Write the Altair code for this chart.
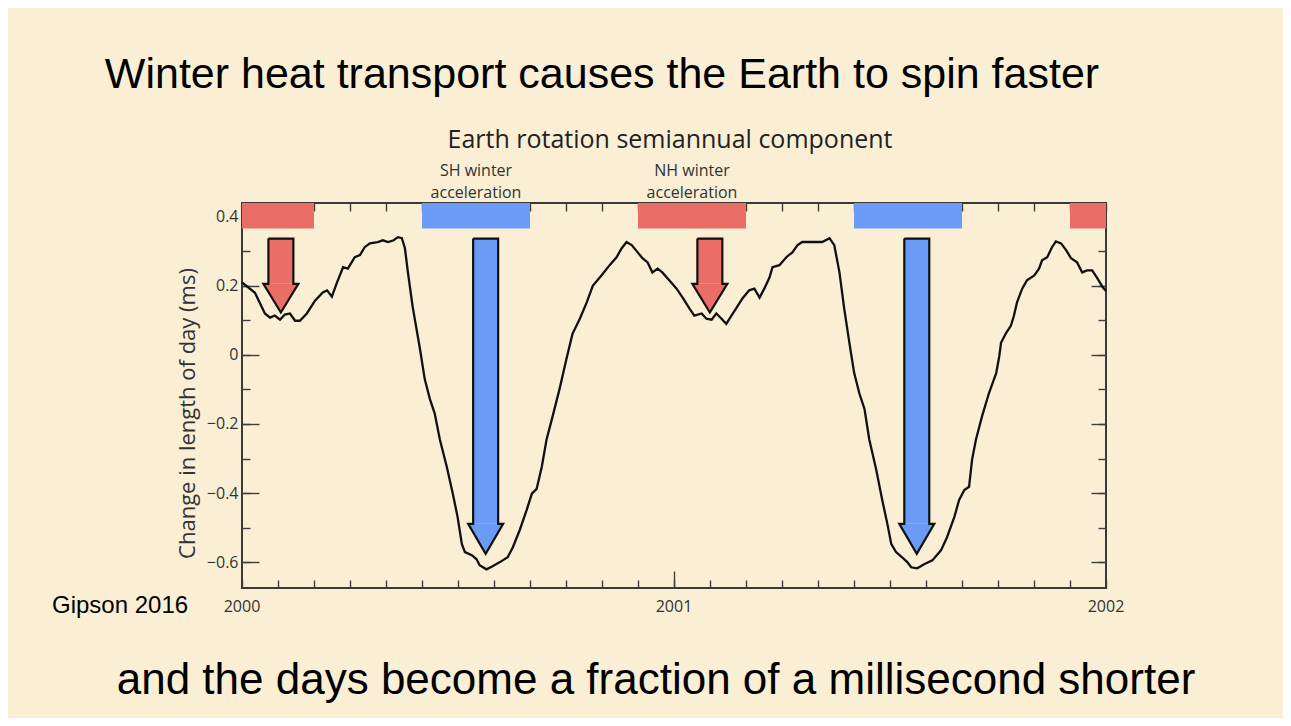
import altair as alt
import pandas as pd

# ---------------- data ----------------
years = [2000.000, 2000.030, 2000.053, 2000.065, 2000.076, 2000.088, 2000.099, 2000.111,
         2000.123, 2000.134, 2000.150, 2000.169, 2000.187, 2000.197, 2000.208, 2000.220,
         2000.234, 2000.245, 2000.261, 2000.273, 2000.284, 2000.296, 2000.314, 2000.326,
         2000.338, 2000.351, 2000.361, 2000.370, 2000.377, 2000.384, 2000.395, 2000.412,
         2000.423, 2000.435, 2000.446, 2000.458, 2000.474, 2000.488, 2000.499, 2000.509,
         2000.516, 2000.532, 2000.543, 2000.550, 2000.566, 2000.580, 2000.597, 2000.615,
         2000.627, 2000.643, 2000.659, 2000.671, 2000.682, 2000.694, 2000.705, 2000.719,
         2000.735, 2000.751, 2000.765, 2000.782, 2000.798, 2000.812, 2000.832, 2000.851,
         2000.867, 2000.879, 2000.890, 2000.902, 2000.916, 2000.927, 2000.939, 2000.950,
         2000.962, 2000.973, 2000.989, 2001.006, 2001.020, 2001.036, 2001.047, 2001.064,
         2001.075, 2001.087, 2001.098, 2001.110, 2001.121, 2001.133, 2001.145, 2001.158,
         2001.174, 2001.186, 2001.198, 2001.209, 2001.221, 2001.228, 2001.244, 2001.260,
         2001.274, 2001.286, 2001.297, 2001.320, 2001.343, 2001.360, 2001.371, 2001.383,
         2001.394, 2001.406, 2001.417, 2001.429, 2001.441, 2001.452, 2001.468, 2001.482,
         2001.494, 2001.503, 2001.514, 2001.528, 2001.540, 2001.549, 2001.563, 2001.579,
         2001.598, 2001.618, 2001.632, 2001.649, 2001.660, 2001.672, 2001.683, 2001.690,
         2001.699, 2001.713, 2001.729, 2001.746, 2001.753, 2001.757, 2001.769, 2001.780,
         2001.787, 2001.794, 2001.806, 2001.817, 2001.834, 2001.845, 2001.852, 2001.864,
         2001.875, 2001.884, 2001.896, 2001.908, 2001.919, 2001.933, 2001.945, 2001.956,
         2001.968, 2001.979, 2001.993, 2002.000]
lod_change = [0.210, 0.180, 0.120, 0.108, 0.114, 0.102, 0.117, 0.120,
              0.099, 0.099, 0.120, 0.157, 0.181, 0.187, 0.169, 0.210,
              0.254, 0.250, 0.283, 0.289, 0.312, 0.323, 0.327, 0.332,
              0.327, 0.332, 0.341, 0.338, 0.310, 0.240, 0.140, 0.017,
              -0.070, -0.128, -0.169, -0.245, -0.324, -0.402, -0.469, -0.548,
              -0.571, -0.580, -0.592, -0.609, -0.621, -0.612, -0.600, -0.586,
              -0.557, -0.507, -0.449, -0.402, -0.388, -0.324, -0.245, -0.178,
              -0.099, -0.012, 0.061, 0.105, 0.152, 0.200, 0.230, 0.260,
              0.283, 0.309, 0.327, 0.318, 0.297, 0.280, 0.268, 0.239,
              0.250, 0.239, 0.216, 0.192, 0.166, 0.134, 0.114, 0.120,
              0.105, 0.102, 0.120, 0.105, 0.090, 0.114, 0.137, 0.163,
              0.187, 0.192, 0.166, 0.192, 0.224, 0.254, 0.260, 0.283,
              0.297, 0.318, 0.327, 0.327, 0.327, 0.338, 0.318, 0.239,
              0.134, 0.035, -0.052, -0.111, -0.157, -0.245, -0.332, -0.420,
              -0.490, -0.548, -0.571, -0.586, -0.600, -0.615, -0.618, -0.606,
              -0.595, -0.566, -0.528, -0.469, -0.420, -0.391, -0.382, -0.303,
              -0.245, -0.178, -0.111, -0.052, -0.003, 0.035, 0.064, 0.085,
              0.114, 0.152, 0.192, 0.216, 0.230, 0.250, 0.274, 0.283,
              0.312, 0.329, 0.323, 0.303, 0.280, 0.268, 0.239, 0.245,
              0.245, 0.224, 0.195, 0.185]

# winter acceleration bands (fractional years)
band_start = [2000.0, 2000.4167, 2000.9167, 2001.4167, 2001.9167]
band_end = [2000.1667, 2000.6667, 2001.1667, 2001.6667, 2002.0]
band_kind = ["NH", "SH", "NH", "SH", "NH"]
band_top = [0.44, 0.44, 0.44, 0.44, 0.44]
band_bottom = [0.366, 0.366, 0.366, 0.366, 0.366]

# arrows
arrow_x = [2000.090, 2000.564, 2001.083, 2001.562]
arrow_kind = ["NH", "SH", "NH", "SH"]
arrow_top = [0.337, 0.337, 0.337, 0.337]
arrow_base = [0.206, -0.489, 0.206, -0.489]
arrow_tip = [0.123, -0.576, 0.123, -0.576]

annot_x = [2000.5417, 2001.0417]
annot_line1 = ["SH winter", "NH winter"]
annot_line2 = ["acceleration", "acceleration"]

x_label_values = [2000, 2001, 2002]
x_label_text = ["2000", "2001", "2002"]
x_major_inner = [2001]
month_ticks = [round(2000 + i / 12, 5) for i in range(25)]
y_major = [-0.6, -0.4, -0.2, 0, 0.2, 0.4]
y_minor = [round(-0.6 + 0.1 * i, 2) for i in range(11)]

HEADING = "Winter heat transport causes the Earth to spin faster"
FOOTER = "and the days become a fraction of a millisecond shorter"
CHART_TITLE = "Earth rotation semiannual component"
SOURCE = "Gipson 2016"
Y_TITLE = "Change in length of day (ms)"

# ---------------- geometry / style ----------------
W, H = 864, 385
SHAFT_HALF = 0.0289
HEAD_HALF = 0.0405
RED = "#EA6E66"
BLUE = "#6A9BF6"
TICKC = "#3d3d3d"
FONT = "Open Sans"

curve_df = pd.DataFrame({"year": years, "lod": lod_change})
bands_df = pd.DataFrame({"start": band_start, "end": band_end, "kind": band_kind,
                         "top": band_top, "bottom": band_bottom})

shaft_rows, head_rows, outline_rows = [], [], []
for i, (xc, kind, top, base, tip) in enumerate(zip(arrow_x, arrow_kind, arrow_top, arrow_base, arrow_tip)):
    shaft_rows.append({"x1": xc - SHAFT_HALF, "x2": xc + SHAFT_HALF, "top": top, "base": base, "kind": kind})
    for hx, hy in [(xc - HEAD_HALF, base), (xc, tip), (xc + HEAD_HALF, base)]:
        head_rows.append({"id": i, "kind": kind, "hx": hx, "hy": hy, "base": base})
    verts = [(xc - SHAFT_HALF, top), (xc + SHAFT_HALF, top), (xc + SHAFT_HALF, base),
             (xc + HEAD_HALF, base), (xc, tip), (xc - HEAD_HALF, base),
             (xc - SHAFT_HALF, base), (xc - SHAFT_HALF, top)]
    for k, (vx, vy) in enumerate(verts):
        outline_rows.append({"id": i, "k": k, "ox": vx, "oy": vy})
shaft_df = pd.DataFrame(shaft_rows)
head_df = pd.DataFrame(head_rows)
outline_df = pd.DataFrame(outline_rows)
annot_df = pd.DataFrame({"x": annot_x, "l1": annot_line1, "l2": annot_line2})
xlab_df = pd.DataFrame({"v": x_label_values, "t": x_label_text})

xs = alt.Scale(domain=[2000, 2002], nice=False, zero=False)
ys = alt.Scale(domain=[-0.675, 0.44], nice=False, zero=False)
cs = alt.Scale(domain=["NH", "SH"], range=[RED, BLUE])

TICK = dict(labels=False, domain=False, grid=False, title=None, tickColor=TICKC, tickWidth=1.4)

ax_y_labels = alt.Axis(orient="left", values=y_major, format=".1~f", ticks=False, domain=False,
                       grid=False, title=Y_TITLE, labelFont=FONT, labelFontSize=16, labelColor="#333",
                       labelPadding=4, labelOverlap=False, titleFont=FONT, titleFontSize=22,
                       titleFontWeight="normal", titleColor="#333", titleX=-43, titleY=210,
                       titleAngle=270)
ax_x_bottom_minor = alt.Axis(orient="top", offset=-H, values=month_ticks, tickSize=8, **TICK)
ax_x_bottom_major = alt.Axis(orient="top", offset=-H, values=x_major_inner, tickSize=17, **TICK)
ax_x_top_minor = alt.Axis(orient="bottom", offset=-H, values=month_ticks, tickSize=8, **TICK)
ax_x_top_major = alt.Axis(orient="bottom", offset=-H, values=x_major_inner, tickSize=17, **TICK)
ax_y_left_minor = alt.Axis(orient="right", offset=-W, values=y_minor, tickSize=8, **TICK)
ax_y_left_major = alt.Axis(orient="right", offset=-W, values=y_major, tickSize=17, **TICK)
ax_y_right_minor = alt.Axis(orient="left", offset=-W, values=y_minor, tickSize=8, **TICK)
ax_y_right_major = alt.Axis(orient="left", offset=-W, values=y_major, tickSize=15, **TICK)

bands = alt.Chart(bands_df).mark_rect(opacity=1).encode(
    x=alt.X("start:Q", scale=xs, axis=None),
    x2="end:Q",
    y=alt.Y("top:Q", scale=ys, axis=ax_y_labels),
    y2="bottom:Q",
    color=alt.Color("kind:N", scale=cs, legend=None),
)

curve = alt.Chart(curve_df).mark_line(color="#111111", strokeWidth=2.3).encode(
    x=alt.X("year:Q", scale=xs, axis=ax_x_top_major),
    y=alt.Y("lod:Q", scale=ys, axis=ax_y_right_major),
)

shafts = alt.Chart(shaft_df).mark_rect(opacity=1).encode(
    x=alt.X("x1:Q", scale=xs, axis=ax_x_bottom_minor),
    x2="x2:Q",
    y=alt.Y("top:Q", scale=ys, axis=ax_y_left_minor),
    y2="base:Q",
    color=alt.Color("kind:N", scale=cs, legend=None),
)

heads = alt.Chart(head_df).mark_area(opacity=1).encode(
    x=alt.X("hx:Q", scale=xs, axis=ax_x_bottom_major),
    y=alt.Y("hy:Q", scale=ys, axis=ax_y_left_major, stack=None),
    y2="base:Q",
    color=alt.Color("kind:N", scale=cs, legend=None),
    detail="id:N",
)

outline = alt.Chart(outline_df).mark_line(color="#111111", strokeWidth=2.2, strokeJoin="miter").encode(
    x=alt.X("ox:Q", scale=xs, axis=ax_x_top_minor),
    y=alt.Y("oy:Q", scale=ys, axis=ax_y_right_minor),
    order="k:Q",
    detail="id:N",
)

annot_style = dict(font=FONT, fontSize=16, color="#333", align="center", baseline="alphabetic")
annot1 = alt.Chart(annot_df).mark_text(**annot_style).encode(
    x=alt.X("x:Q", scale=xs, axis=None), y=alt.value(-27), text="l1:N")
annot2 = alt.Chart(annot_df).mark_text(**annot_style).encode(
    x=alt.X("x:Q", scale=xs, axis=None), y=alt.value(-5), text="l2:N")

xlabels = alt.Chart(xlab_df).mark_text(**annot_style).encode(
    x=alt.X("v:Q", scale=xs, axis=None), y=alt.value(H + 24), text="t:N")


def text_layer(txt, x, y, font, size, color="#000", align="center"):
    return alt.Chart(pd.DataFrame({"t": [txt]})).mark_text(
        font=font, fontSize=size, color=color, align=align, baseline="alphabetic"
    ).encode(text="t:N", x=alt.value(x), y=alt.value(y))


heading = text_layer(HEADING, 360, -115, "Liberation Sans", 43)
footer = text_layer(FOOTER, 414, 491, "Liberation Sans", 44)
ctitle = text_layer(CHART_TITLE, 428, -55, FONT, 25, color="#222")
source = text_layer(SOURCE, -190, 410, "Liberation Sans", 24, align="left")

chart = alt.layer(
    bands, curve, shafts, heads, outline, annot1, annot2, xlabels, heading, footer, ctitle, source
).resolve_axis(x="independent", y="independent").properties(
    width=W, height=H, autosize="none",
    padding={"left": 234, "top": 195, "right": 177, "bottom": 130},
).configure(background="#FAEFD5").configure_view(stroke="#3a3a3a", strokeWidth=2)

chart.save("out.html", embed_options={"renderer": "svg", "actions": False})
